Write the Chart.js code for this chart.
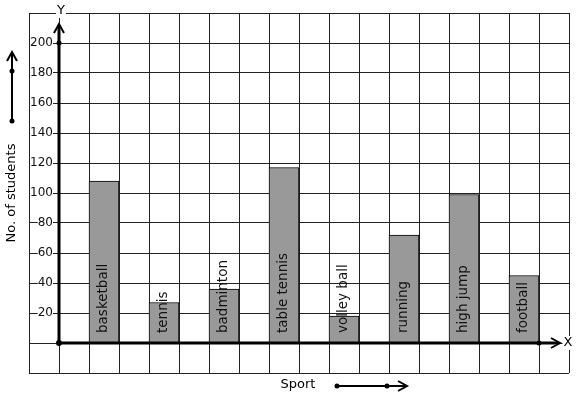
<!DOCTYPE html>
<html>
<head>
<meta charset="utf-8">
<script src="https://cdn.jsdelivr.net/npm/chart.js@4"></script>
<style>
  html, body { margin: 0; padding: 0; background: #fff; }
  #wrap { width: 577px; height: 399px; }
</style>
</head>
<body>
<div id="wrap"><canvas id="myChart"></canvas></div>
<script>
// Sports and number of students
const sports = ["basketball", "tennis", "badminton", "table tennis", "volley ball", "running", "high jump", "football"];
const students = [108, 27, 36, 117, 18, 72, 99, 45];
const yTicks = [20, 40, 60, 80, 100, 120, 140, 160, 180, 200];

// each sport sits in every second grid cell right of the Y axis
const sportX = sports.map((s, i) => 1.5 + 2 * i);

const FONT = "DejaVu Sans";

function arrowHead(ctx, x, y, dir) {
  // open chevron, tip at (x, y)
  ctx.beginPath();
  if (dir === "up") {
    ctx.moveTo(x - 5, y + 9);
    ctx.lineTo(x, y);
    ctx.lineTo(x + 5, y + 9);
  } else {
    ctx.moveTo(x - 9, y - 5);
    ctx.lineTo(x, y);
    ctx.lineTo(x - 9, y + 5);
  }
  ctx.stroke();
}

function dot(ctx, x, y, r) {
  ctx.beginPath();
  ctx.arc(x, y, r, 0, Math.PI * 2);
  ctx.fill();
}

function boxedText(ctx, text, x, y) {
  const w = ctx.measureText(text).width;
  ctx.fillStyle = "#fff";
  ctx.fillRect(x - w / 2 - 1, y - 7, w + 2, 14);
  ctx.fillStyle = "#000";
  ctx.fillText(text, x, y);
}

const decorations = {
  id: "decorations",
  afterDatasetsDraw(chart) {
    const ctx = chart.ctx;
    const meta = chart.getDatasetMeta(0);
    const y0 = chart.scales.y.getPixelForValue(0);
    ctx.save();
    ctx.font = "13.5px '" + FONT + "'";
    ctx.fillStyle = "#111";
    ctx.textAlign = "left";
    ctx.textBaseline = "middle";
    meta.data.forEach((bar, i) => {
      ctx.save();
      ctx.translate(bar.x - 1, y0 - 10);
      ctx.rotate(-Math.PI / 2);
      ctx.fillText(sports[i], 0, 0);
      ctx.restore();
    });
    ctx.restore();
  },
  afterDraw(chart) {
    const ctx = chart.ctx;
    const xs = chart.scales.x;
    const ys = chart.scales.y;
    const ox = xs.getPixelForValue(0);
    const oy = ys.getPixelForValue(0);
    const top = ys.getPixelForValue(200) - 19;
    const right = xs.getPixelForValue(16.7);

    ctx.save();
    ctx.strokeStyle = "#000";
    ctx.fillStyle = "#000";
    ctx.lineWidth = 3;
    ctx.lineCap = "butt";

    // Y axis
    ctx.beginPath();
    ctx.moveTo(ox, oy);
    ctx.lineTo(ox, top + 1);
    ctx.stroke();
    ctx.lineWidth = 2;
    arrowHead(ctx, ox, top, "up");

    // X axis
    ctx.lineWidth = 3;
    ctx.beginPath();
    ctx.moveTo(ox, oy);
    ctx.lineTo(right - 1, oy);
    ctx.stroke();
    ctx.lineWidth = 2;
    arrowHead(ctx, right, oy, "right");

    dot(ctx, ox, oy, 3);
    dot(ctx, ox, ys.getPixelForValue(200), 2.5);
    dot(ctx, xs.getPixelForValue(16), oy, 2.5);

    // axis letters
    ctx.font = "13px '" + FONT + "'";
    ctx.textAlign = "center";
    ctx.textBaseline = "middle";
    boxedText(ctx, "Y", ox + 2, 11);
    boxedText(ctx, "X", right + 8, oy);

    // axis titles
    ctx.fillStyle = "#000";
    ctx.font = "13px '" + FONT + "'";
    ctx.fillText("Sport", 298, 385);
    ctx.save();
    ctx.translate(12, 193);
    ctx.rotate(-Math.PI / 2);
    ctx.fillText("No. of students", 0, 0);
    ctx.restore();

    // little direction arrows next to the titles
    ctx.lineWidth = 2;
    ctx.beginPath();
    ctx.moveTo(12, 121);
    ctx.lineTo(12, 53);
    ctx.stroke();
    arrowHead(ctx, 12, 52, "up");
    dot(ctx, 12, 121, 2.5);
    dot(ctx, 12, 71, 2.5);

    ctx.beginPath();
    ctx.moveTo(337, 386);
    ctx.lineTo(406, 386);
    ctx.stroke();
    arrowHead(ctx, 407, 386, "right");
    dot(ctx, 337, 386, 2.5);
    dot(ctx, 387, 386, 2.5);

    ctx.restore();
  },
};

const data = {
  datasets: [
    {
      label: "No. of students",
      data: sportX.map((x, i) => ({ x: x, y: students[i] })),
      backgroundColor: "#999999",
      borderColor: "#000",
      borderWidth: 1,
      borderSkipped: "bottom",
      barThickness: 30,
    },
  ],
};

const config = {
  type: "bar",
  data: data,
  options: {
    responsive: true,
    maintainAspectRatio: false,
    animation: false,
    layout: {
      padding: { left: 29, top: 13, right: 8, bottom: 26 },
    },
    plugins: {
      legend: { display: false },
      tooltip: { enabled: false },
    },
    scales: {
      x: {
        type: "linear",
        position: { y: 0 },
        min: -1,
        max: 17,
        offset: false,
        border: { display: false },
        grid: { color: "#222", lineWidth: 1, drawTicks: false, offset: false },
        ticks: { display: false, stepSize: 1 },
      },
      y: {
        // labels sit just left of the Y axis line
        position: { x: -0.2 },
        min: -20,
        max: 220,
        border: { display: false },
        grid: { color: "#222", lineWidth: 1, drawTicks: false },
        afterBuildTicks: (scale) => {
          scale.ticks = [-20, 0].concat(yTicks, [220]).map((v) => ({ value: v }));
        },
        ticks: {
          color: "#111",
          font: { family: FONT, size: 12 },
          showLabelBackdrop: true,
          backdropColor: "#fff",
          backdropPadding: { top: 2, bottom: 2, left: 0, right: 0 },
          callback: (v) => (yTicks.includes(v) ? String(v) : ""),
        },
      },
    },
  },
  plugins: [decorations],
};

new Chart(document.getElementById("myChart"), config);
</script>
</body>
</html>
